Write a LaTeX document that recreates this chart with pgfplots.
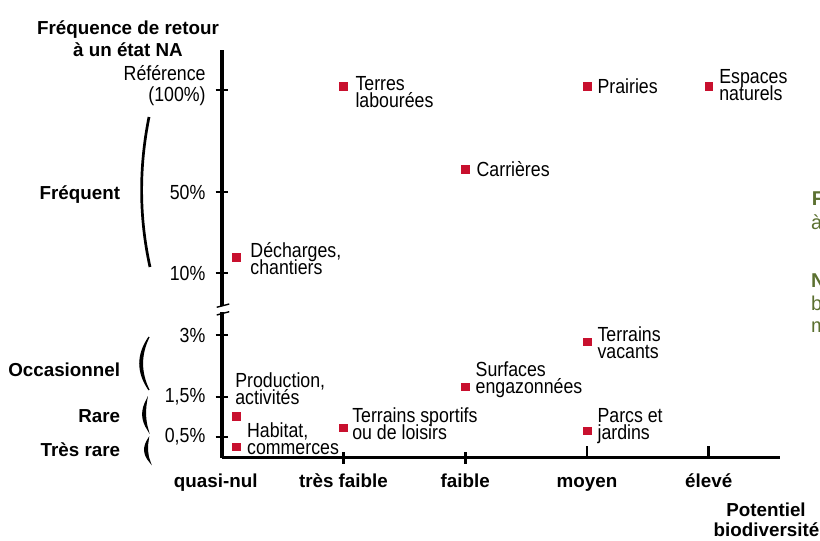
\documentclass[border=0pt]{standalone}
\usepackage{fontspec}
\setmainfont{Liberation Sans}
\newfontfamily\nar[FakeStretch=0.87]{Liberation Sans}
\usepackage{pgfplots}
\pgfplotsset{compat=1.18}
\definecolor{ptred}{RGB}{200,16,46}
\definecolor{olivetxt}{RGB}{91,112,48}
\newcommand{\lab}{\nar\fontsize{10.2pt}{8.5pt}\selectfont\lineskiplimit=-20pt\lineskip=0pt}
\newcommand{\bol}{\bfseries\fontsize{9.4pt}{11pt}\selectfont}
\begin{document}
\begin{tikzpicture}
\useasboundingbox (-110.85pt,-41.75pt) rectangle (299.15pt,228.75pt);
\begin{axis}[
  at={(0pt,0pt)}, anchor=south west,
  width=279pt, height=203.75pt, scale only axis,
  xmin=0, xmax=4.583, ymin=0, ymax=407.5,
  axis lines=left, axis line style={-, line width=1.9pt, black},
  clip=false,
  tick align=center, major tick length=6pt,
  xtick={1,2}, xticklabels={très faible, faible},
  xtick style={black, line width=1.3pt},
  extra x ticks={0,3,4}, extra x tick labels={quasi-nul\hspace*{6pt}, moyen, élevé},
  extra x tick style={major tick style={gray, line width=0.5pt}, tick align=inside,
     xticklabel style={yshift=-3pt}},
  xticklabel style={font=\bol, anchor=base, yshift=-12pt, inner sep=0pt},
  ytick={20.8,60.8,122.5,184.2,265.2,367.5},
  yticklabels={{0,5\%},{1,5\%},{3\%},{10\%},{50\%},{}},
  ytick style={black, line width=1.2pt},
  yticklabel style={font=\lab, anchor=east, inner sep=0pt, xshift=-5pt},
]
\addplot[only marks, mark=square*, mark size=1.95pt, color=ptred, mark options={line width=0.3pt}]
coordinates {
  (1,370.8) (3,370.8) (4,370.8) (2,288.5) (0.118,199.8)
  (3,115.8) (2,70.8) (0.118,41.5) (0.118,10.8) (1,29.8) (3,26.8)
};
\node[anchor=west, align=left, inner sep=0pt, font=\lab] at (axis cs:1.096,365) {Terres\\labourées};
\node[anchor=west, align=left, inner sep=0pt, font=\lab] at (axis cs:3.084,371.5) {Prairies};
\node[anchor=west, align=left, inner sep=0pt, font=\lab] at (axis cs:4.084,372.5) {Espaces\\naturels};
\node[anchor=west, align=left, inner sep=0pt, font=\lab] at (axis cs:2.091,288.5) {Carrières};
\node[anchor=west, align=left, inner sep=0pt, font=\lab] at (axis cs:0.233,199.2) {Décharges,\\chantiers};
\node[anchor=west, align=left, inner sep=0pt, font=\lab] at (axis cs:3.084,115) {Terrains\\vacants};
\node[anchor=west, align=left, inner sep=0pt, font=\lab] at (axis cs:2.083,78.2) {Surfaces\\engazonnées};
\node[anchor=west, align=left, inner sep=0pt, font=\lab] at (axis cs:0.109,68.7) {Production,\\activités};
\node[anchor=west, align=left, inner sep=0pt, font=\lab] at (axis cs:0.206,19.2) {Habitat,\\commerces};
\node[anchor=west, align=left, inner sep=0pt, font=\lab] at (axis cs:1.069,34.2) {Terrains sportifs\\ou de loisirs};
\node[anchor=west, align=left, inner sep=0pt, font=\lab] at (axis cs:3.084,31.2) {Parcs et\\jardins};
\node[anchor=east, align=right, inner sep=0pt, font=\nar\fontsize{10.2pt}{10.5pt}\selectfont] at (axis cs:-0.129,372) {Référence\\(100\%)};
\end{axis}
\begin{scope}[x=0.5pt, y=-0.5pt, shift={(-110.85pt,228.75pt)}]
  % axis break
  \fill[white] (217,306) rectangle (227,312.5);
  \draw[line width=0.7pt] (216.7,307.3) -- (229.3,304);
  \draw[line width=0.7pt] (216.7,315) -- (229.3,311.7);
  % brackets
  \draw[line width=1.35pt] (149,117) .. controls (139,167) and (139,217) .. (150,267);
  \filldraw[line width=0.6pt] (149,337) .. controls (136.8,354.7) and (136.8,372.3) .. (149,390)
     .. controls (140.3,372.3) and (140.3,354.7) .. (149,337) -- cycle;
  \filldraw[line width=0.6pt] (146.7,400) .. controls (141.2,410) and (141.2,420) .. (148,430)
     .. controls (144.9,420) and (144.9,410) .. (146.7,400) -- cycle;
  \filldraw[line width=0.6pt] (148.3,439) .. controls (143.2,446.7) and (143.2,454.3) .. (150,462)
     .. controls (146.9,454.3) and (146.9,446.7) .. (148.3,439) -- cycle;
  % left labels
  \node[anchor=base east, inner sep=0pt, font=\bol] at (120.5,199.8) {Fréquent};
  \node[anchor=base east, inner sep=0pt, font=\bol] at (120.5,376.8) {Occasionnel};
  \node[anchor=base east, inner sep=0pt, font=\bol] at (120.5,422.5) {Rare};
  \node[anchor=base east, inner sep=0pt, font=\bol] at (120.5,456.8) {Très rare};
  % axis titles
  \node[anchor=base, inner sep=0pt, font=\bol] at (128,34.3) {Fréquence de retour};
  \node[anchor=base, inner sep=0pt, font=\bol] at (128,56.7) {à un état NA};
  \node[anchor=base, inner sep=0pt, font=\bol] at (766,516.7) {Potentiel};
  \node[anchor=base, inner sep=0pt, font=\bol] at (766.5,537) {biodiversité};
  % cut-off text at right edge
  \node[anchor=base west, inner sep=0pt, font=\bfseries\fontsize{10pt}{12pt}\selectfont, text=olivetxt] at (811.5,205.7) {F};
  \node[anchor=base west, inner sep=0pt, font=\fontsize{10pt}{12pt}\selectfont, text=olivetxt] at (810.7,230) {à};
  \node[anchor=base west, inner sep=0pt, font=\bfseries\fontsize{10pt}{12pt}\selectfont, text=olivetxt] at (810.7,287.3) {N};
  \node[anchor=base west, inner sep=0pt, font=\fontsize{10pt}{12pt}\selectfont, text=olivetxt] at (810.7,310.7) {b};
  \node[anchor=base west, inner sep=0pt, font=\fontsize{10pt}{12pt}\selectfont, text=olivetxt] at (810.7,333) {m};
\end{scope}
\end{tikzpicture}
\end{document}
